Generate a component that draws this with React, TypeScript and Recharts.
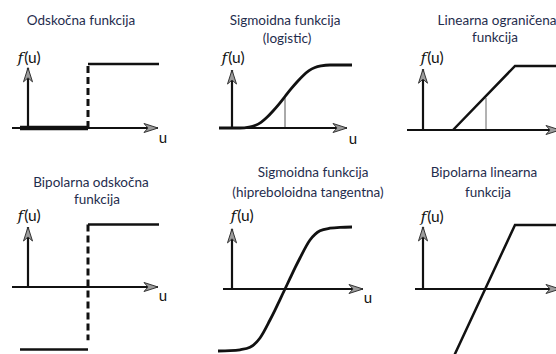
import React from 'react';
import { LineChart, Line, XAxis, YAxis } from 'recharts';

// ---------- data (u = input, f = output) ----------
const stepLow = [{ u: -0.8, f: 0 }, { u: 6, f: 0 }];
const stepJump = [{ u: 6, f: 0 }, { u: 6, f: 1 }];
const stepHigh = [{ u: 6, f: 1 }, { u: 13.1, f: 1 }];

const logisticCurve = [
  { u: -1.3, f: 0 }, { u: 0.8, f: 0 }, { u: 1.7, f: 0.015 }, { u: 2.3, f: 0.04 },
  { u: 2.9, f: 0.09 }, { u: 3.5, f: 0.17 }, { u: 4.1, f: 0.27 }, { u: 4.7, f: 0.38 },
  { u: 5.3, f: 0.5 }, { u: 5.9, f: 0.62 }, { u: 6.5, f: 0.73 }, { u: 7.1, f: 0.83 },
  { u: 7.7, f: 0.91 }, { u: 8.3, f: 0.96 }, { u: 8.9, f: 0.985 }, { u: 9.8, f: 1.0 },
  { u: 12.0, f: 1.0 },
];
const logisticMarker = [{ u: 5.3, f: 0 }, { u: 5.3, f: 0.5 }];

const rampCurve = [{ u: 3.0, f: 0 }, { u: 9.2, f: 1 }, { u: 14, f: 1 }];
const rampMarker = [{ u: 6.3, f: 0 }, { u: 6.3, f: 0.5 }];

const bipolarHigh = [{ u: 6, f: 1 }, { u: 13.1, f: 1 }];
const bipolarJump = [{ u: 6, f: 1 }, { u: 6, f: -0.85 }];
const bipolarLow = [{ u: -0.8, f: -1 }, { u: 6, f: -1 }];

const tanhCurve = [
  { u: -1.4, f: -1.0 }, { u: -0.2, f: -0.995 }, { u: 0.8, f: -0.98 }, { u: 1.8, f: -0.94 },
  { u: 2.8, f: -0.79 }, { u: 3.8, f: -0.5 }, { u: 4.3, f: -0.34 }, { u: 4.8, f: -0.17 },
  { u: 5.3, f: 0 }, { u: 5.8, f: 0.17 }, { u: 6.3, f: 0.34 }, { u: 6.8, f: 0.5 },
  { u: 7.8, f: 0.79 }, { u: 8.8, f: 0.94 }, { u: 9.8, f: 0.98 }, { u: 10.8, f: 0.995 },
  { u: 12.0, f: 1.0 },
];

const bipolarRamp = [{ u: 3.0, f: -1.08 }, { u: 9.2, f: 1 }, { u: 14, f: 1 }];

const titles: string[][] = [
  ['Odskočna funkcija'],
  ['Sigmoidna funkcija', '(logistic)'],
  ['Linearna ograničena', 'funkcija'],
  ['Bipolarna odskočna', 'funkcija'],
  ['Sigmoidna funkcija', '(hipreboloidna tangentna)'],
  ['Bipolarna linearna', 'funkcija'],
];
const axisURange: [number, number][] = [[-1.6, 13], [-1.3, 11.5], [-1.6, 13.7], [-1.6, 13], [-0.9, 13.1], [-0.8, 13.7]];
const axisFTop = [0.94, 0.92, 0.95, 0.96, 0.97, 0.97];
const axisNameU = ['u', 'u', '', 'u', 'u', ''];

// ---------- layout ----------
const INK = '#111';
const TEXT = '#1f2d4d';
const FONT = 'Lato, "Open Sans", sans-serif';

type Series = { data: { u: number; f: number }[]; w: number; dash?: string; color?: string; curve?: 'linear' | 'monotone' };

const panels: {
  left: number; top: number; w: number; h: number; ox: number; oy: number; sx: number; sy: number;
  titlePos: [number, number][]; fu: [number, number]; uLbl: [number, number]; series: Series[];
}[] = [
  {
    left: 0, top: 50, w: 185, h: 100, ox: 28, oy: 128, sx: 10, sy: 64,
    titlePos: [[81, 20]], fu: [29, 57], uLbl: [163, 137],
    series: [
      { data: stepLow, w: 4.5 },
      { data: stepJump, w: 3, dash: '7 4' },
      { data: stepHigh, w: 2.5 },
    ],
  },
  {
    left: 190, top: 50, w: 175, h: 100, ox: 232, oy: 128, sx: 10, sy: 63,
    titlePos: [[285, 20], [287, 38]], fu: [233, 57], uLbl: [353, 138],
    series: [
      { data: logisticMarker, w: 1, color: '#555' },
      { data: logisticCurve, w: 2.8, curve: 'monotone' },
    ],
  },
  {
    left: 380, top: 50, w: 176, h: 100, ox: 423, oy: 130, sx: 10, sy: 64,
    titlePos: [[497, 20], [495, 37]], fu: [432, 57], uLbl: [545, 140],
    series: [
      { data: rampMarker, w: 1, color: '#666' },
      { data: rampCurve, w: 2.5 },
    ],
  },
  {
    left: 0, top: 215, w: 185, h: 139, ox: 28, oy: 287, sx: 10, sy: 62.5,
    titlePos: [[91, 182], [97, 199]], fu: [29, 215], uLbl: [163, 295],
    series: [
      { data: bipolarHigh, w: 2.5 },
      { data: bipolarJump, w: 3, dash: '7 4' },
      { data: bipolarLow, w: 2.5 },
    ],
  },
  {
    left: 190, top: 215, w: 180, h: 139, ox: 232, oy: 289, sx: 10, sy: 62,
    titlePos: [[313, 172], [308, 192]], fu: [242, 215], uLbl: [368, 297],
    series: [{ data: tanhCurve, w: 2.8, curve: 'monotone' }],
  },
  {
    left: 380, top: 215, w: 176, h: 139, ox: 423, oy: 289, sx: 10, sy: 64,
    titlePos: [[484, 172], [488, 192]], fu: [432, 216], uLbl: [545, 297],
    series: [{ data: bipolarRamp, w: 2.5 }],
  },
];

const arrowDot = (dir: 'right' | 'up', n: number) => (p: any) => {
  const { cx, cy, index } = p;
  if (index !== n - 1 || cx == null || cy == null) return <g key={`d${index}`} />;
  const L = 14, W = 4.5, N = 10;
  const pts = dir === 'right'
    ? `${cx},${cy} ${cx - L},${cy - W} ${cx - N},${cy} ${cx - L},${cy + W}`
    : `${cx},${cy} ${cx - W},${cy + L} ${cx},${cy + N} ${cx + W},${cy + L}`;
  return <polygon key={`d${index}`} points={pts} fill="#9c9c9c" stroke="#333" strokeWidth={1} strokeLinejoin="round" />;
};

function Panel({ i }: { i: number }) {
  const p = panels[i];
  const xd: [number, number] = [(p.left - p.ox) / p.sx, (p.left + p.w - p.ox) / p.sx];
  const yd: [number, number] = [(p.oy - (p.top + p.h)) / p.sy, (p.oy - p.top) / p.sy];
  const xAxisData = [{ u: axisURange[i][0], f: 0 }, { u: axisURange[i][1], f: 0 }];
  const yAxisData = [{ u: 0, f: 0 }, { u: 0, f: axisFTop[i] }];
  return (
    <div style={{ position: 'absolute', left: p.left, top: p.top, width: p.w, height: p.h }}>
      <LineChart width={p.w} height={p.h} margin={{ top: 0, right: 0, bottom: 0, left: 0 }}>
        <XAxis type="number" dataKey="u" domain={xd} hide allowDataOverflow />
        <YAxis type="number" dataKey="f" domain={yd} hide allowDataOverflow />
        {p.series.map((s, k) => (
          <Line key={`s${k}`} data={s.data} dataKey="f" type={s.curve ?? 'linear'} stroke={s.color ?? INK}
            strokeWidth={s.w} strokeDasharray={s.dash} dot={false} activeDot={false} isAnimationActive={false} />
        ))}
        <Line data={xAxisData} dataKey="f" type="linear" stroke={INK} strokeWidth={2.2}
          dot={arrowDot('right', 2)} activeDot={false} isAnimationActive={false} />
        <Line data={yAxisData} dataKey="f" type="linear" stroke={INK} strokeWidth={2.2}
          dot={arrowDot('up', 2)} activeDot={false} isAnimationActive={false} />
      </LineChart>
    </div>
  );
}

const centered = (x: number, y: number): React.CSSProperties => ({
  position: 'absolute', left: x, top: y, transform: 'translate(-50%, -50%)', whiteSpace: 'nowrap',
});

export default function App() {
  return (
    <div style={{ position: 'fixed', left: 0, top: 0, width: 556, height: 354, overflow: 'hidden', background: '#fff', fontFamily: FONT }}>
      {panels.map((p, i) => (
        <React.Fragment key={`p${i}`}>
          <Panel i={i} />
          {titles[i].map((t, k) => (
            <div key={`t${k}`} style={{ ...centered(p.titlePos[k][0], p.titlePos[k][1]), fontSize: 13.5, color: TEXT }}>{t}</div>
          ))}
          <div style={{ ...centered(p.fu[0], p.fu[1]), fontSize: 15.5, color: INK }}>
            <span style={{ fontFamily: '"DejaVu Serif", serif', fontStyle: 'italic', marginRight: 1 }}>f</span>(u)
          </div>
          {axisNameU[i] ? (
            <div style={{ ...centered(p.uLbl[0], p.uLbl[1]), fontSize: 15, color: INK }}>{axisNameU[i]}</div>
          ) : null}
        </React.Fragment>
      ))}
    </div>
  );
}
